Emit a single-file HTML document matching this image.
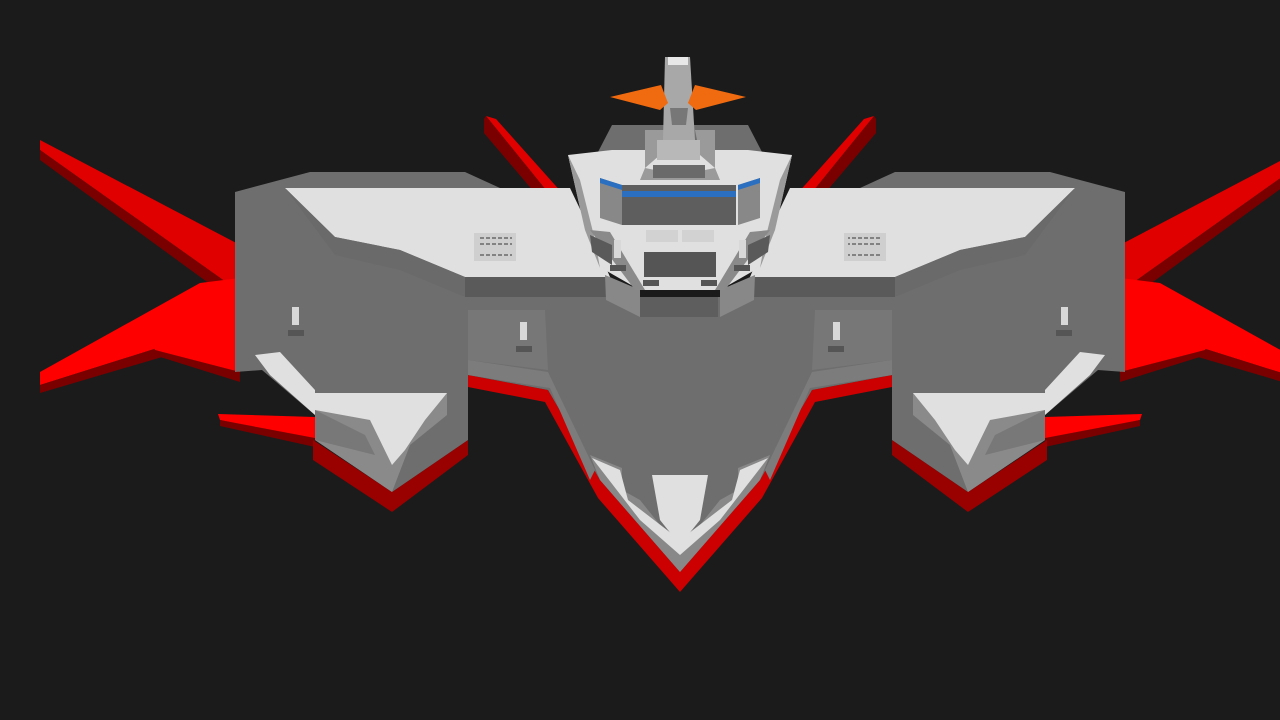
<!DOCTYPE html>
<html><head><meta charset="utf-8"><style>html,body{margin:0;padding:0;background:#1b1b1b;width:1280px;height:720px;overflow:hidden}</style></head>
<body>
<svg width="1280" height="720" viewBox="0 0 1280 720" xmlns="http://www.w3.org/2000/svg">
<rect width="1280" height="720" fill="#1b1b1b"/>
<defs>
<g id="half">
  <polygon points="40,140 240,245 240,292 40,150" fill="#e00000"/>
  <polygon points="40,150 240,292 240,306 40,160" fill="#7a0000"/>
  <polygon points="40,372 200,283 240,278 240,322 40,385" fill="#ff0000"/>
  <polygon points="40,385 240,322 240,334 40,393" fill="#7a0000"/>
  <polygon points="153,342 240,322 240,375 155,350" fill="#ff0000"/>
  <polygon points="155,350 240,372 240,382 157,356" fill="#7a0000"/>
  <polygon points="218,414 315,417 315,440 220,420" fill="#ff0000"/>
  <polygon points="220,420 315,438 315,447 220,426" fill="#7a0000"/>
  <polygon points="486,116 496,119 588,222 580,232" fill="#e00000"/>
  <polygon points="484,119 486,116 580,232 568,232 484,133" fill="#7a0000"/>
  <polygon points="313,440 392,492 468,440 468,455 392,512 313,460" fill="#990000"/>
  <polygon points="235,192 310,172 465,172 500,188 468,300 468,440 392,492 315,440 315,415 262,370 235,372" fill="#6e6e6e"/>
  <polygon points="255,355 280,352 315,390 315,415 270,375" fill="#e0e0e0"/>
  <polygon points="315,393 447,393 447,415 410,445 392,492 315,440" fill="#8a8a8a"/>
  <polygon points="315,393 447,393 425,420 405,450 392,465 370,420 315,410" fill="#e0e0e0"/>
  <polygon points="315,410 365,435 375,455 315,440" fill="#787878"/>
  <polygon points="468,375 548,390 600,480 680,572 680,592 598,498 545,402 468,387" fill="#cc0000"/>
  <polygon points="468,297 680,297 680,572 600,480 548,390 468,375" fill="#6e6e6e"/>
  <polygon points="468,310 545,310 548,370 468,360" fill="#777"/>
  <polygon points="468,360 548,372 595,470 590,480 550,388 468,375" fill="#7c7c7c"/>
  <polygon points="590,455 622,468 622,490 640,500 680,550 680,572 600,480" fill="#888"/>
  <polygon points="592,458 620,470 628,500 680,540 680,555 640,520" fill="#e0e0e0"/>
  <polygon points="652,475 680,475 680,545 660,520" fill="#e0e0e0"/>
  <polygon points="285,188 570,188 590,230 610,277 465,277 400,250 335,237" fill="#e0e0e0"/>
  <polygon points="285,188 335,237 400,250 465,277 465,297 400,270 335,255" fill="#6a6a6a"/>
  <polygon points="465,277 610,277 640,297 465,297" fill="#5a5a5a"/>
  <polygon points="605,275 640,290 640,317 606,300" fill="#888"/>
  <polygon points="612,125 680,125 680,152 598,152" fill="#6e6e6e"/>
  <polygon points="568,155 612,150 680,150 680,290 640,290 605,270 585,230" fill="#e0e0e0"/>
  <polygon points="568,155 585,230 600,268 595,240 580,180" fill="#9a9a9a"/>
  <polygon points="590,230 610,232 645,290 635,290" fill="#8a8a8a"/>
  <polygon points="600,178 622,185 622,225 600,218" fill="#888"/>
  <polygon points="600,178 622,185 622,190 600,183" fill="#2a6fc0"/>
  <polygon points="645,130 665,130 660,155 645,168 680,175 680,185 640,180 645,168" fill="#9a9a9a"/>
  <rect x="474" y="233" width="42" height="28" fill="#cfcfcf"/>
  <g stroke="#555" stroke-width="1.2" stroke-dasharray="4,2"><line x1="480" y1="238" x2="512" y2="238"/><line x1="480" y1="244" x2="512" y2="244"/><line x1="480" y1="255" x2="512" y2="255"/></g>
  <rect x="646" y="230" width="32" height="12" fill="#d2d2d2"/>
  <g fill="#555"><rect x="288" y="330" width="16" height="6"/><rect x="516" y="346" width="16" height="6"/><rect x="610" y="265" width="16" height="6"/><rect x="643" y="280" width="16" height="6"/></g>
  <g fill="#d8d8d8"><rect x="292" y="307" width="7" height="18"/><rect x="520" y="322" width="7" height="18"/><rect x="614" y="240" width="7" height="18"/><rect x="648" y="255" width="7" height="18"/></g>
  <polygon points="590,235 612,245 612,265 592,252" fill="#5a5a5a"/>
</g>
</defs>
<use href="#half"/>
<use href="#half" transform="translate(1360,0) scale(-1,1)"/>
<rect x="622" y="185" width="114" height="40" fill="#5e5e5e"/>
<rect x="622" y="191" width="114" height="6" fill="#2a6fc0"/>
<rect x="622" y="180" width="114" height="5" fill="#e0e0e0"/>
<rect x="644" y="252" width="72" height="25" fill="#555"/>
<rect x="640" y="297" width="78" height="20" fill="#5e5e5e"/>
<polygon points="653,165 705,165 705,178 653,178" fill="#6a6a6a"/>
<polygon points="665,57 690,57 695,140 663,140" fill="#a8a8a8"/>
<polygon points="668,57 688,57 688,65 668,65" fill="#e8e8e8"/>
<polygon points="670,108 688,108 686,125 672,125" fill="#777"/>
<polygon points="610,97 661,85 668,103 660,110" fill="#f06a10"/>
<polygon points="746,97 695,85 688,103 696,110" fill="#f06a10"/>
<polygon points="657,140 700,140 700,160 657,160" fill="#b8b8b8"/>
</svg>
</body></html>
